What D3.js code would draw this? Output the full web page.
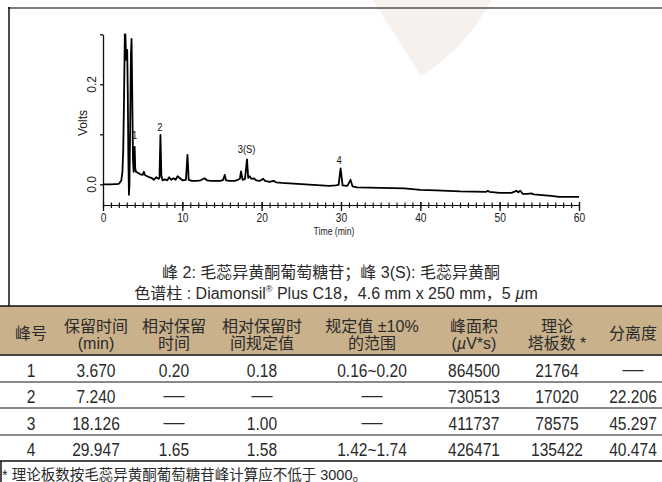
<!DOCTYPE html>
<html>
<head>
<meta charset="utf-8">
<script src="https://cdn.jsdelivr.net/npm/d3@7"></script>
<style>
html, body { margin: 0; padding: 0; background: #fff; }
svg { display: block; }
</style>
</head>
<body>
<svg id="vis" width="662" height="482"></svg>
<script>
// chromatogram trace
var times = [0, 1.0, 2.0, 2.1, 2.3, 2.45, 2.55, 2.65, 2.75, 2.82, 2.92, 3.0, 3.05, 3.12, 3.2, 3.27, 3.33, 3.42, 3.52, 3.6, 3.68, 3.78, 3.86, 3.93, 3.99, 4.06, 4.15,
  4.4, 4.7, 5.0, 5.15, 5.3, 5.7, 6.1, 6.4, 6.7, 7.0, 7.12, 7.24, 7.36, 7.5, 7.8, 8.1, 8.35, 8.6, 8.9, 9.15, 9.4, 9.7, 10.0, 10.45, 10.65, 10.8,
  11.2, 11.8, 12.3, 12.8, 13.1, 13.6, 14.2, 14.8, 15.15, 15.35, 15.5, 16.0, 16.6, 17.0, 17.25, 17.4, 17.6, 17.9, 18.15, 18.3, 18.5, 18.7, 19.0, 19.3, 19.8, 20.2, 20.4,
  21.0, 21.5, 21.8, 22.5, 23.5, 24.5, 25.5, 26.5, 27.5, 28.5, 29.3, 29.7, 29.95, 30.2, 30.8, 31.2, 31.45, 32, 35, 38, 40, 42, 45, 48.3, 48.5, 48.7,
  50, 51.5, 52.1, 52.35, 52.6, 52.9, 53.5, 54.0, 54.3, 55, 56.5, 57.5, 60];
var volts = [0.000, 0.000, 0.001, 0.003, 0.007, 0.025, 0.069, 0.169, 0.300, 0.300, 0.249, 0.259, 0.269, 0.189, 0.049, -0.021, -0.001, 0.109, 0.259, 0.291, 0.189, 0.049, 0.025, 0.033, 0.075, 0.033, 0.025,
  0.023, 0.020, 0.019, 0.025, 0.018, 0.015, 0.013, 0.009, 0.014, 0.011, 0.013, 0.099, 0.017, 0.008, 0.010, 0.008, 0.014, 0.009, 0.012, 0.009, 0.016, 0.012, 0.008, 0.009, 0.059, 0.009,
  0.007, 0.007, 0.008, 0.012, 0.008, 0.007, 0.007, 0.007, 0.009, 0.019, 0.008, 0.007, 0.007, 0.009, 0.011, 0.026, 0.009, 0.011, 0.050, 0.013, 0.016, 0.011, 0.012, 0.008, 0.007, 0.011, 0.007,
  0.005, 0.007, 0.004, 0.003, 0.002, 0.001, 0.000, -0.001, -0.002, -0.003, -0.002, -0.001, 0.032, -0.002, -0.003, 0.009, -0.004, -0.006, -0.007, -0.008, -0.011, -0.012, -0.014, -0.015, -0.013, -0.015,
  -0.017, -0.017, -0.013, -0.016, -0.013, -0.019, -0.019, -0.018, -0.020, -0.021, -0.023, -0.025, -0.025];

var peakNames = ["1", "2", "3(S)", "4"];
var peakLabelTimes = [4.0, 7.18, 18.1, 29.75];
var peakLabelVolts = [0.091, 0.107, 0.063, 0.041];

var xTicksMajor = [0, 10, 20, 30, 40, 50, 60];
var yTicks = [0, 0.1, 0.2, 0.3];
var yLabelled = [0, 0.2];

var captionLine1 = "峰 2: 毛蕊异黄酮葡萄糖苷；峰 3(S): 毛蕊异黄酮";

// table
var headTop = ["峰号", "保留时间", "相对保留", "相对保留时", "规定值 ±10%", "峰面积", "理论", "分离度"];
var headBottom = ["", "(min)", "时间", "间规定值", "的范围", "(µV*s)", "塔板数 *", ""];
var peakNo = ["1", "2", "3", "4"];
var retTime = ["3.670", "7.240", "18.126", "29.947"];
var relRet = ["0.20", "—", "—", "1.65"];
var relRetSpec = ["0.18", "—", "1.00", "1.58"];
var specRange = ["0.16~0.20", "—", "—", "1.42~1.74"];
var peakArea = ["864500", "730513", "411737", "426471"];
var plates = ["21764", "17020", "78575", "135422"];
var resolution = ["—", "22.206", "45.297", "40.474"];
var footnote = "* 理论板数按毛蕊异黄酮葡萄糖苷峰计算应不低于 3000。";

var SANS = "'Liberation Sans','Noto Sans CJK SC',sans-serif";
var SQUEEZE = 0.82;   // the original uses a condensed face

var svg = d3.select("#vis");

// condensed text: a normal face squeezed sideways
function narrowText(parent, x, y, size, str) {
  return parent.append("text")
    .attr("transform", "translate(" + x + "," + y + ") scale(" + SQUEEZE + ",1)")
    .attr("text-anchor", "middle")
    .attr("font-family", SANS).attr("font-size", size)
    .text(str);
}

// faint watermark behind the chart
svg.append("path")
  .attr("d", "M373,0 L421,76 Q468,46 491,0 Z")
  .attr("fill", "#f6f1ed");

// frame
svg.append("line").attr("x1", 8).attr("x2", 662).attr("y1", 8).attr("y2", 8)
  .attr("stroke", "#7a7a7a").attr("stroke-width", 2);
svg.append("line").attr("x1", 9).attr("x2", 9).attr("y1", 7).attr("y2", 306)
  .attr("stroke", "#111").attr("stroke-width", 1.5);
svg.append("line").attr("x1", 1).attr("x2", 1).attr("y1", 461).attr("y2", 482)
  .attr("stroke", "#111").attr("stroke-width", 1.5);

var x = d3.scaleLinear().domain([0, 60]).range([103, 579]);
var y = d3.scaleLinear().domain([-0.035, 0.3]).range([201.8, 34.3]);

var chart = svg.append("g");

// y axis
var yAxis = d3.axisLeft(y).tickValues(yTicks).tickSizeInner(3).tickSizeOuter(0)
  .tickFormat(function() { return ""; });
chart.append("g").attr("transform", "translate(103,0)").call(yAxis)
  .call(function(g) { g.selectAll("path,line").attr("stroke", "#111").attr("stroke-width", 1.3); });

chart.selectAll(".ylab").data(yLabelled).enter().append("text")
  .attr("transform", function(d) { return "translate(96," + y(d) + ") rotate(-90)"; })
  .attr("text-anchor", "middle")
  .attr("font-family", SANS).attr("font-size", 12).attr("fill", "#222")
  .text(function(d) { return d.toFixed(1); });

chart.append("text")
  .attr("transform", "translate(87,123) rotate(-90)")
  .attr("text-anchor", "middle")
  .attr("font-family", SANS).attr("font-size", 12).attr("fill", "#222")
  .text("Volts");

// x axis: minor ticks every minute, labelled majors
var xMinor = d3.axisBottom(x).tickValues(d3.range(0, 61, 1)).tickSizeInner(5).tickSizeOuter(0)
  .tickFormat(function() { return ""; });
var gxm = chart.append("g").attr("transform", "translate(0,205)").call(xMinor);
gxm.selectAll(".tick line").attr("y1", -2.5).attr("y2", 3);
gxm.selectAll("path,line").attr("stroke", "#111").attr("stroke-width", 1.2);

var xMajor = d3.axisBottom(x).tickValues(xTicksMajor).tickSizeInner(6).tickSizeOuter(0).tickPadding(2);
var gx = chart.append("g").attr("transform", "translate(0,205)").call(xMajor);
gx.select(".domain").remove();
gx.selectAll(".tick line").attr("y1", -3).attr("stroke", "#111").attr("stroke-width", 1.3);
gx.selectAll(".tick text")
  .attr("transform", "scale(" + SQUEEZE + ",1)")
  .attr("font-family", SANS).attr("font-size", 12.5).attr("fill", "#222");

narrowText(chart, 334, 235, 10.5, "Time (min)").attr("fill", "#222");

// trace
var pts = times.map(function(t, i) { return [t, volts[i]]; });
var line = d3.line().x(function(d) { return x(d[0]); }).y(function(d) { return y(d[1]); });
chart.append("path")
  .attr("d", line(pts))
  .attr("fill", "none")
  .attr("stroke", "#000")
  .attr("stroke-width", 1.8)
  .attr("stroke-linejoin", "round");

peakNames.forEach(function(name, i) {
  narrowText(chart, x(peakLabelTimes[i]), y(peakLabelVolts[i]), 11.5, name).attr("fill", "#111");
});

// caption under the chart
svg.append("text")
  .attr("x", 331).attr("y", 278).attr("text-anchor", "middle")
  .attr("font-family", SANS).attr("font-size", 16).attr("fill", "#2a2a2a")
  .text(captionLine1);

var cap2 = svg.append("text")
  .attr("x", 336).attr("y", 299).attr("text-anchor", "middle")
  .attr("font-family", SANS).attr("font-size", 16).attr("fill", "#2a2a2a");
cap2.append("tspan").text("色谱柱 : Diamonsil");
cap2.append("tspan").attr("font-size", 9).attr("dy", -7).text("®");
cap2.append("tspan").attr("dy", 7).text(" Plus C18，4.6 mm x 250 mm，5 ");
cap2.append("tspan").attr("font-style", "italic").text("µ");
cap2.append("tspan").text("m");

// table
var colX = [31, 96, 174, 262, 372, 474, 557, 633];
var rowBase = [377, 403, 430, 456];
var rowLines = [382, 408, 435];

svg.append("rect").attr("x", 0).attr("y", 306).attr("width", 662).attr("height", 49)
  .attr("fill", "#c9b18c");
svg.append("line").attr("x1", 0).attr("x2", 662).attr("y1", 306).attr("y2", 306)
  .attr("stroke", "#111").attr("stroke-width", 1.5);
svg.append("line").attr("x1", 0).attr("x2", 662).attr("y1", 355).attr("y2", 355)
  .attr("stroke", "#444").attr("stroke-width", 2);
svg.selectAll(".rline").data(rowLines).enter().append("line")
  .attr("x1", 0).attr("x2", 662)
  .attr("y1", function(d) { return d; }).attr("y2", function(d) { return d; })
  .attr("stroke", "#8a8a8a").attr("stroke-width", 2);
svg.append("line").attr("x1", 0).attr("x2", 662).attr("y1", 461).attr("y2", 461)
  .attr("stroke", "#111").attr("stroke-width", 1.5);

headTop.forEach(function(h, i) {
  var single = headBottom[i] === "";
  svg.append("text")
    .attr("x", colX[i]).attr("y", single ? 339 : 332)
    .attr("text-anchor", "middle")
    .attr("font-family", SANS).attr("font-size", 16).attr("fill", "#2a2a2a")
    .text(h);
  if (!single) {
    var b = svg.append("text")
      .attr("x", colX[i]).attr("y", 349)
      .attr("text-anchor", "middle")
      .attr("font-family", SANS).attr("font-size", 16).attr("fill", "#2a2a2a");
    if (headBottom[i].indexOf("µ") >= 0) {
      b.append("tspan").text("(");
      b.append("tspan").attr("font-style", "italic").text("µ");
      b.append("tspan").text("V*s)");
    } else {
      b.text(headBottom[i]);
    }
  }
});

var columns = [peakNo, retTime, relRet, relRetSpec, specRange, peakArea, plates, resolution];
columns.forEach(function(col, c) {
  col.forEach(function(d, r) {
    if (d === "—") {
      svg.append("text")
        .attr("x", colX[c]).attr("y", rowBase[r] - 1)
        .attr("text-anchor", "middle")
        .attr("font-family", SANS).attr("font-size", 21).attr("fill", "#2a2a2a")
        .text(d);
    } else {
      narrowText(svg, colX[c], rowBase[r], 19, d).attr("fill", "#2a2a2a");
    }
  });
});

svg.append("text")
  .attr("x", 2).attr("y", 480)
  .attr("font-family", SANS).attr("font-size", 14.5).attr("fill", "#2a2a2a")
  .text(footnote);
</script>
</body>
</html>
